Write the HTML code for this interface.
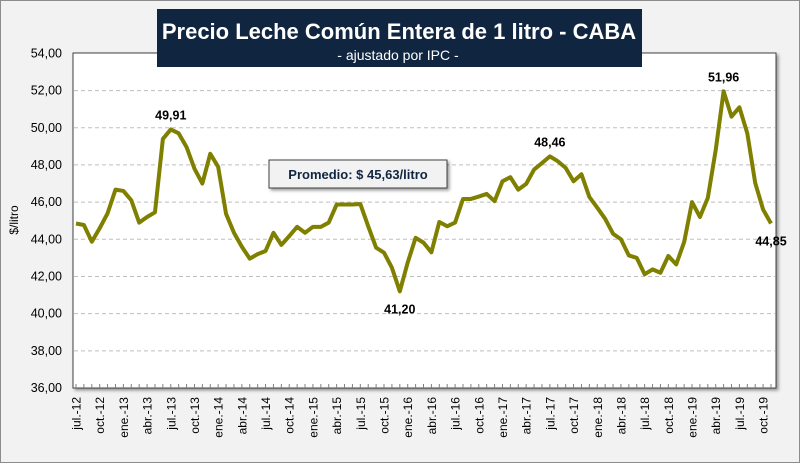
<!DOCTYPE html>
<html><head><meta charset="utf-8"><style>
body{margin:0;background:#fff}
svg{display:block;font-family:"Liberation Sans",sans-serif}
</style></head><body>
<svg id="chart" width="800" height="463" viewBox="0 0 800 463">
<defs><filter id="sh" x="-10%" y="-10%" width="130%" height="140%"><feDropShadow dx="2" dy="2" stdDeviation="1.5" flood-color="#000" flood-opacity="0.4"/></filter></defs>
<rect x="0.5" y="0.5" width="799" height="462" fill="#f2f2f2" stroke="#8c8c8c"/>
<rect x="73" y="53" width="703" height="335" fill="#fff" stroke="#404040" stroke-width="1" filter="url(#sh)"/>
<g id="grid"></g>
<g id="yticks"></g>
<g id="xticks"></g>
<polyline id="line" fill="none" stroke="#7f7f00" stroke-width="4" stroke-linejoin="round"/>
<g id="labels"></g>
<text x="18" y="220" transform="rotate(-90 18 220)" text-anchor="middle" font-size="12" fill="#000">$/litro</text>
<rect x="157" y="9" width="485" height="58" fill="#10253f"/>
<text x="399" y="39" text-anchor="middle" font-size="22" font-weight="bold" fill="#fff">Precio Leche Común Entera de 1 litro - CABA</text>
<text x="398" y="60" text-anchor="middle" font-size="14" fill="#fff">- ajustado por IPC -</text>
<rect x="269" y="160" width="178" height="28" fill="#f2f2f2" stroke="#404040" filter="url(#sh)"/>
<text x="358" y="179" text-anchor="middle" font-size="13" font-weight="bold" fill="#10253f">Promedio: $ 45,63/litro</text>
</svg>
<script>
const values=[44.85,44.77,43.87,44.6,45.4,46.67,46.6,46.1,44.9,45.2,45.45,49.4,49.91,49.7,48.96,47.8,47.0,48.6,47.9,45.37,44.35,43.6,42.96,43.2,43.37,44.35,43.7,44.17,44.67,44.35,44.67,44.67,44.9,45.87,45.87,45.87,45.9,44.7,43.55,43.28,42.47,41.2,42.75,44.08,43.82,43.3,44.93,44.7,44.9,46.17,46.17,46.3,46.44,46.05,47.12,47.34,46.67,46.98,47.75,48.1,48.46,48.2,47.84,47.12,47.5,46.28,45.7,45.1,44.3,44.0,43.13,43.0,42.12,42.38,42.2,43.1,42.65,43.85,46.0,45.2,46.23,48.8,51.96,50.6,51.1,49.7,47.03,45.6,44.85];
const monthNames=["ene","feb","mar","abr","may","jun","jul","ago","sep","oct","nov","dic"];
const startMonth=6, startYear=2012;
const yTicks=[36,38,40,42,44,46,48,50,52,54];
const annotations=[{i:12,t:"49,91",dy:-10},{i:41,t:"41,20",dy:22},{i:60,t:"48,46",dy:-10},{i:82,t:"51,96",dy:-10},{i:88,t:"44,85",dy:22}];
const NS="http://www.w3.org/2000/svg";
const x=i=>76+i*(771-76)/88;
const y=v=>388-(v-36)*(388-53.4)/18;
function mk(tag,attrs,parent,text){const e=document.createElementNS(NS,tag);for(const k in attrs)e.setAttribute(k,attrs[k]);if(text!==undefined)e.textContent=text;document.getElementById(parent).appendChild(e);return e;}
yTicks.forEach(v=>{
  if(v>36&&v<54){const g=mk('line',{x1:74,x2:775,y1:y(v),y2:y(v),stroke:'#bfbfbf','stroke-dasharray':'4,3'},'grid');
  
  }
  const t=mk('text',{x:62,y:y(v)+4,'text-anchor':'end','font-size':12.5},'yticks',v.toFixed(2).replace('.',','));
  
  
});
values.forEach((v,i)=>{
  const tk=mk('line',{x1:x(i),x2:x(i),y1:384,y2:388,stroke:'#808080'},'xticks');
  
  
  const m=(startMonth+i)%12;
  if(m%3===0){const yr=startYear+Math.floor((startMonth+i)/12);
    const lbl=monthNames[m]+".-"+String(yr).slice(2);
    const t=mk('text',{x:x(i)+4.5,y:397,'text-anchor':'end','font-size':12,transform:`rotate(-90 ${x(i)+4.5} 397)`},'xticks',lbl);
    
    }
});
document.getElementById('line').setAttribute('points',values.map((v,i)=>x(i)+','+y(v)).join(' '));
annotations.forEach(a=>{
  const t=mk('text',{x:x(a.i),y:y(values[a.i])+a.dy,'text-anchor':'middle','font-size':12.5,'font-weight':'bold'},'labels',a.t);
  
  
});
</script>
</body></html>
